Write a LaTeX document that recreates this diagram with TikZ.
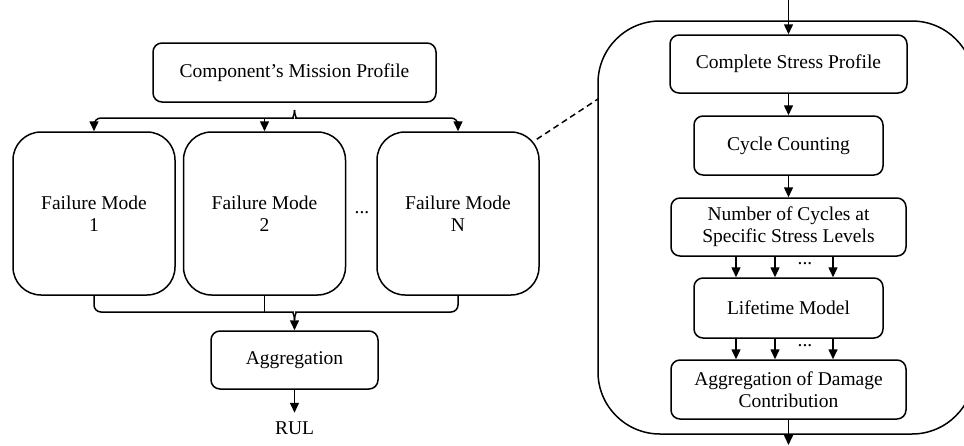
\documentclass[tikz,border=0pt]{standalone}
\usepackage{fontspec}
\setmainfont{Liberation Serif}
\usetikzlibrary{arrows.meta}
\begin{document}
\begin{tikzpicture}[x=1pt,y=-1pt,
  every node/.style={font=\fontsize{19.5}{22}\selectfont},
  box/.style={draw,line width=1.5pt,rectangle,inner sep=0pt,align=center},
  sbox/.style={box,rounded corners=9pt},
  fbox/.style={box,rounded corners=28pt,minimum width=162pt,minimum height=163pt},
  ln/.style={line width=1.5pt},
  arr/.style={ln,-{Triangle[length=10pt,width=9pt]}}]
\useasboundingbox (0,0) rectangle (964,445);
\clip (0,0) rectangle (964,445);
% left part
\node[sbox,minimum width=283pt,minimum height=59pt] (mission) at (294.5,72.5) {Component’s Mission Profile};
\node[fbox] (fm1) at (94,213.5) {Failure Mode\\1};
\node[fbox] (fm2) at (264.5,213.5) {Failure Mode\\2};
\node[fbox] (fmN) at (458,213.5) {Failure Mode\\N};
\node (dots) at (362,213) {...};
\node[sbox,minimum width=167pt,minimum height=58pt] (agg) at (294.5,360) {Aggregation};
\node (rul) at (294.5,428) {RUL};
% top brace
\coordinate (bt) at (294.5,110);
\draw[arr,rounded corners=7pt] (bt) .. controls (294.5,116) and (292,118) .. (286,118) -| (fm1.north);
\draw[arr,rounded corners=7pt] (bt) .. controls (294.5,116) and (297,118) .. (303,118) -| (fmN.north);
\draw[arr] (fm2.north |- 0,118) -- (fm2.north);
% bottom merge
\coordinate (bb) at (294.5,320);
\draw[ln,rounded corners=7pt] (fm1.south) |- (286,312) .. controls (292,312) and (294.5,314) .. (bb);
\draw[ln,rounded corners=7pt] (fmN.south) |- (303,312) .. controls (297,312) and (294.5,314) .. (bb);
\draw[ln] (fm2.south) -- (fm2.south |- 0,312);
\draw[arr] (bb) -- (agg.north);
\draw[arr] (agg.south) -- ([yshift=-23pt]agg.south);
% right part
\node[box,rounded corners=62pt,minimum width=376pt,minimum height=413pt] (big) at (786,227.5) {};
\node[sbox,minimum width=237pt,minimum height=58pt] (csp) at (788.5,64) {Complete Stress Profile};
\node[sbox,minimum width=189pt,minimum height=59pt] (cc) at (788.5,145.5) {Cycle Counting};
\node[sbox,minimum width=235pt,minimum height=58pt] (noc) at (788.5,227) {Number of Cycles at\\Specific Stress Levels};
\node[sbox,minimum width=189pt,minimum height=60pt] (lm) at (788.5,308) {Lifetime Model};
\node[sbox,minimum width=235pt,minimum height=59pt] (aod) at (788.5,389.5) {Aggregation of Damage\\Contribution};
\coordinate (in) at (788.5,0);
\coordinate (out) at (788.5,445);
\draw[arr] (in) -- (csp.north);
\draw[arr] (csp.south) -- (cc.north);
\draw[arr] (cc.south) -- (noc.north);
\foreach \dx in {-52.5,-13.5,44.5}{
  \draw[arr] ([xshift=\dx pt]noc.south) -- ([xshift=\dx pt]lm.north);
  \draw[arr] ([xshift=\dx pt]lm.south) -- ([xshift=\dx pt]aod.north);
}
\node (d1) at (805,264) {...};
\node (d2) at (805,346) {...};
\draw[arr] (aod.south) -- (out);
% zoom link
\coordinate (zl) at (598,99);
\draw[ln,dashed,dash pattern=on 6pt off 4pt] (fmN.north east) ++(-3,8) -- (zl);
\end{tikzpicture}
\end{document}
